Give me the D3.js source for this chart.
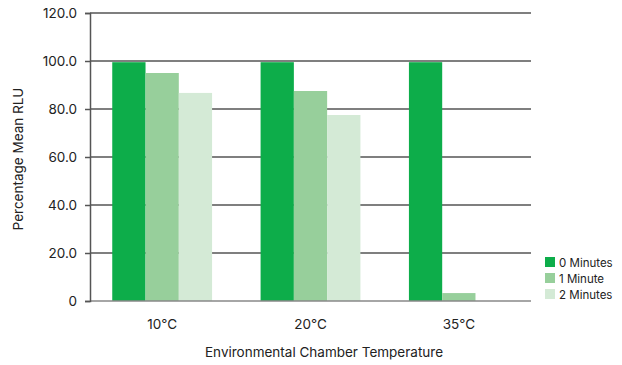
<!DOCTYPE html>
<html><head><meta charset="utf-8">
<script src="https://cdn.jsdelivr.net/npm/d3@7"></script>
<style>body{margin:0;background:#fff}svg{display:block;font-family:Inter,"Liberation Sans",sans-serif}</style>
</head><body><svg id="c" width="622" height="365"></svg>
<script>
const categories = ["10°C", "20°C", "35°C"];
const seriesNames = ["0 Minutes", "1 Minute", "2 Minutes"];
const values0 = [99.5, 99.5, 99.5];
const values1 = [95, 87.5, 3.3];
const values2 = [86.7, 77.5, 0];
const yTicks = [0, 20, 40, 60, 80, 100, 120];
const yTickLabels = ["0", "20.0", "40.0", "60.0", "80.0", "100.0", "120.0"];
const colors = ["#0dad4a", "#97cf9b", "#d4ead6"];

const series = [values0, values1, values2];
const svg = d3.select("#c");
const L = 90, R = 531, T = 13, B = 301;
const y = d3.scaleLinear().domain([0, 120]).range([B, T]);
const x0 = d3.scaleBand().domain(categories).range([L, R]).paddingInner(0.327).paddingOuter(0.15);
const x1 = d3.scaleBand().domain(seriesNames).range([0, x0.bandwidth()]);

// gridlines
svg.append("g").selectAll("line").data(yTicks.filter(d => d > 0)).join("line")
  .attr("x1", L).attr("x2", R).attr("y1", d => y(d)).attr("y2", d => y(d))
  .attr("stroke", "#555").attr("stroke-width", 1.5);

// bars
const g = svg.append("g");
categories.forEach((c, i) => {
  seriesNames.forEach((s, j) => {
    const v = series[j][i];
    if (v <= 0) return;
    g.append("rect").attr("x", x0(c) + x1(s)).attr("width", x1.bandwidth())
      .attr("y", y(v)).attr("height", y(0) - y(v)).attr("fill", colors[j]);
  });
});

// bottom axis line
svg.append("line").attr("x1", L).attr("x2", R).attr("y1", y(0)).attr("y2", y(0))
  .attr("stroke", "#888").attr("stroke-width", 1.5);

// y axis
const yAxis = d3.axisLeft(y).tickValues(yTicks).tickFormat((d, i) => yTickLabels[i]).tickSize(5).tickPadding(8);
const ya = svg.append("g").attr("transform", `translate(${L},0)`).call(yAxis);
ya.select(".domain").attr("stroke", "#555").attr("stroke-width", 1.5);
ya.selectAll(".tick line").attr("stroke", "#555").attr("stroke-width", 1.5);
ya.selectAll(".tick text").attr("font-size", 13.5).attr("fill", "#222").attr("font-family", "Inter, sans-serif");

// x axis labels
const xAxis = d3.axisBottom(x0).tickSize(0).tickPadding(18);
const xa = svg.append("g").attr("transform", `translate(0,${B})`).call(xAxis);
xa.select(".domain").remove();
xa.selectAll(".tick text").attr("font-size", 13.5).attr("fill", "#222").attr("font-family", "Inter, sans-serif");

// axis titles
svg.append("text").attr("x", 324).attr("y", 357).attr("text-anchor", "middle")
  .attr("font-size", 13.5).attr("fill", "#222").text("Environmental Chamber Temperature");
svg.append("text").attr("transform", "translate(23,159) rotate(-90)").attr("text-anchor", "middle")
  .attr("font-size", 13.5).attr("fill", "#222").text("Percentage Mean RLU");

// legend
const lg = svg.append("g").attr("transform", "translate(545,257)");
seriesNames.forEach((s, j) => {
  lg.append("rect").attr("x", 0).attr("y", j * 16).attr("width", 10).attr("height", 10).attr("fill", colors[j]);
  lg.append("text").attr("x", 14).attr("y", j * 16 + 9.5).attr("font-size", 11.5).attr("fill", "#222").text(s);
});
</script></body></html>
